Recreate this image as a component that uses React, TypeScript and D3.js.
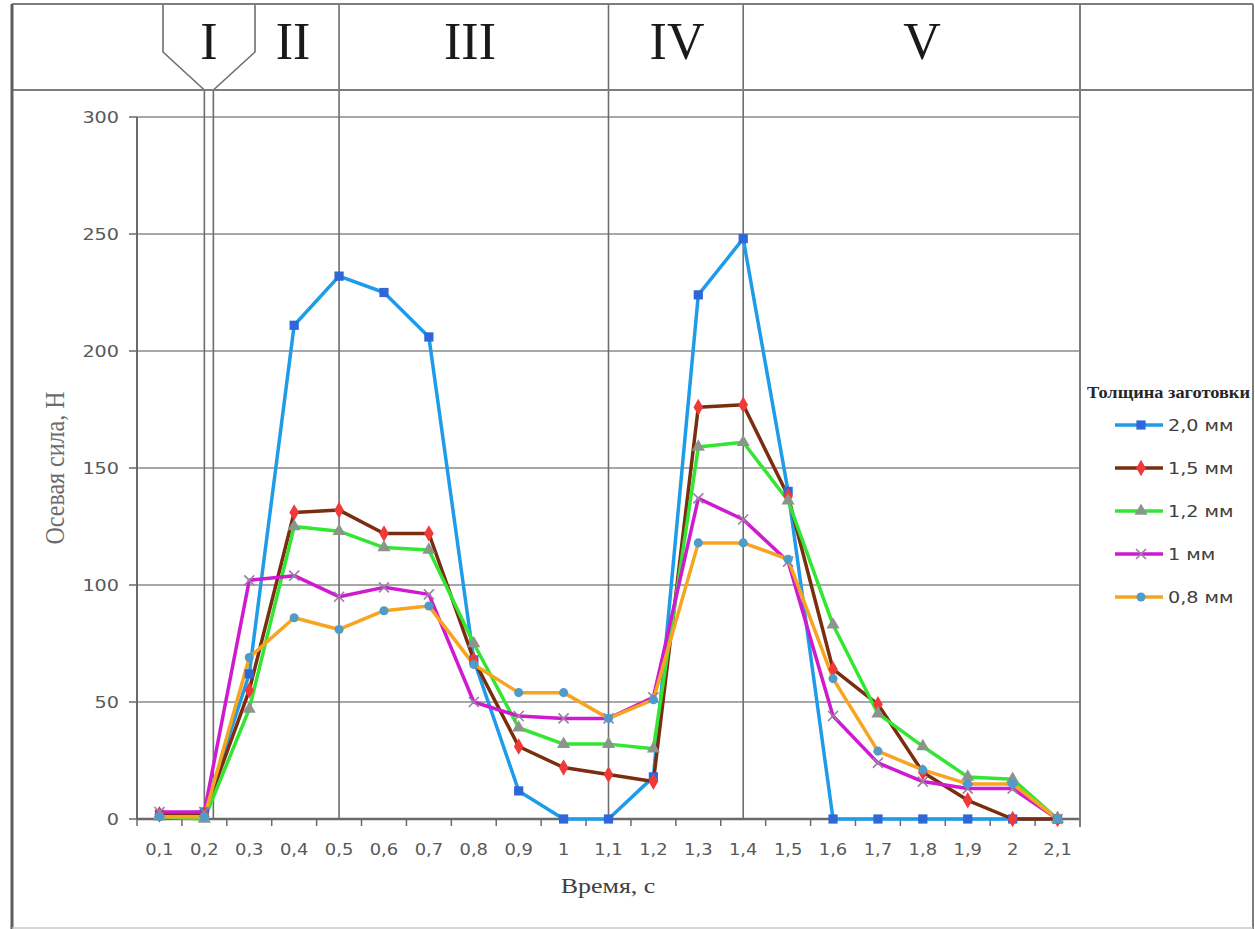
import React from 'react';
import * as d3 from 'd3';

const categories = ["0,1", "0,2", "0,3", "0,4", "0,5", "0,6", "0,7", "0,8", "0,9", "1", "1,1", "1,2", "1,3", "1,4", "1,5", "1,6", "1,7", "1,8", "1,9", "2", "2,1"];
const s20 = [2, 3, 62, 211, 232, 225, 206, 68, 12, 0, 0, 18, 224, 248, 140, 0, 0, 0, 0, 0, 0];
const s15 = [2, 2, 55, 131, 132, 122, 122, 68, 31, 22, 19, 16, 176, 177, 138, 64, 49, 20, 8, 0, 0];
const s12 = [1, 0, 47, 125, 123, 116, 115, 75, 39, 32, 32, 30, 159, 161, 136, 83, 45, 31, 18, 17, 0];
const s10 = [3, 3, 102, 104, 95, 99, 96, 50, 44, 43, 43, 52, 137, 128, 110, 44, 24, 16, 13, 13, 0];
const s08 = [1, 1, 69, 86, 81, 89, 91, 66, 54, 54, 43, 51, 118, 118, 111, 60, 29, 21, 15, 15, 0];
const seriesNames = ["2,0 мм", "1,5 мм", "1,2 мм", "1 мм", "0,8 мм"];
const yTicks = [0, 50, 100, 150, 200, 250, 300];
const phaseLabels = ["I", "II", "III", "IV", "V"];
const phaseBounds = ["0,5", "1,1", "1,4"];

const styles = [
  { line: "#1E9CEA", marker: "square", fill: "#2F66D8", stroke: "none" },
  { line: "#7B2D10", marker: "diamond", fill: "#F03A3A", stroke: "none" },
  { line: "#33E633", marker: "triangle", fill: "#8C958C", stroke: "none" },
  { line: "#CF1ACF", marker: "x", fill: "none", stroke: "#9B7FA3" },
  { line: "#F7A520", marker: "circle", fill: "#4F9CC8", stroke: "none" },
];

function markerPath(kind: string): string {
  if (kind === "square") return d3.symbol().type(d3.symbolSquare).size(85)()!;
  if (kind === "diamond") return d3.symbol().type(d3.symbolDiamond).size(80)()!;
  if (kind === "triangle") return d3.symbol().type(d3.symbolTriangle).size(75)()!;
  if (kind === "circle") return d3.symbol().type(d3.symbolCircle).size(65)()!;
  const r = 5;
  return `M${-r},${-r}L${r},${r}M${-r},${r}L${r},${-r}`;
}

function T(props: { x: number; y: number; sx?: number; anchor?: string; size: number; family: string; fill: string; weight?: string; children: any; rotate?: number }) {
  const { x, y, sx = 1, anchor = "start", size, family, fill, weight = "normal", children, rotate = 0 } = props;
  const tr = rotate ? `translate(${x},${y}) rotate(${rotate}) scale(1,${sx})` : `translate(${x},${y}) scale(${sx},1)`;
  return (
    <text transform={tr} textAnchor={anchor} fontSize={size} fontFamily={family} fill={fill} fontWeight={weight}>
      {children}
    </text>
  );
}

export default function App() {
  const W = 1255, H = 929;
  const x = d3.scaleBand().domain(categories).range([137, 1080]);
  const y = d3.scaleLinear().domain([0, 300]).range([819, 117]);
  const cx = (c: string) => (x(c) as number) + x.bandwidth() / 2;
  const lineGen = d3.line<number>().x((_, i) => cx(categories[i])).y(d => y(d));
  const allSeries = [s20, s15, s12, s10, s08];
  const sans = "'DejaVu Sans', sans-serif";
  const serif = "'Liberation Serif', 'Times New Roman', serif";
  const frame = "#7d7d7d";
  const grid = "#8a8a8a";
  const top = 4, headBottom = 90;
  const xI = cx("0,2");
  const xI2 = xI + 9;
  const boundX = phaseBounds.map(cx);
  const rightX = x.range()[1];
  const legendY = [425, 468, 511, 554, 597];
  const phaseX = [209, 293, 470, 677, 922];

  return (
    <svg width={W} height={H} style={{ position: "absolute", left: 0, top: 0, background: "#fff" }}>
      <rect x={0} y={0} width={W} height={H} fill="#fff" />
      {/* horizontal grid */}
      {yTicks.map(t => (
        <line key={"g" + t} x1={137} x2={rightX} y1={y(t)} y2={y(t)} stroke={t === 0 ? "#6a6a6a" : grid} strokeWidth={t === 0 ? 2.5 : 1.6} />
      ))}
      {/* y axis */}
      <line x1={137} x2={137} y1={y(300)} y2={y(0)} stroke="#6a6a6a" strokeWidth={2} />
      {yTicks.map(t => (
        <line key={"yt" + t} x1={129} x2={137} y1={y(t)} y2={y(t)} stroke="#6a6a6a" strokeWidth={1.5} />
      ))}
      {yTicks.map(t => (
        <T key={"yl" + t} x={119} y={y(t) + 6} anchor="end" size={16} sx={1.2} family={sans} fill="#595959">{t}</T>
      ))}
      {/* x ticks */}
      {d3.range(categories.length + 1).map(i => {
        const xx = 137 + i * x.bandwidth();
        return <line key={"xt" + i} x1={xx} x2={xx} y1={y(0)} y2={y(0) + 7} stroke="#6a6a6a" strokeWidth={1.5} />;
      })}
      {categories.map(c => (
        <T key={"xl" + c} x={cx(c)} y={855} anchor="middle" size={16} sx={1.12} family={sans} fill="#595959">{c}</T>
      ))}
      {/* phase divider lines */}
      {boundX.map((bx, i) => (
        <line key={"b" + i} x1={bx} x2={bx} y1={top} y2={y(0)} stroke="#6e6e6e" strokeWidth={1.6} />
      ))}
      <line x1={xI} x2={xI} y1={headBottom} y2={y(0)} stroke="#6e6e6e" strokeWidth={1.6} />
      <line x1={xI2} x2={xI2} y1={headBottom} y2={y(0)} stroke="#6e6e6e" strokeWidth={1.6} />
      <path d={`M163,${top}L163,52L${xI},${headBottom}M255,${top}L255,52L${xI2},${headBottom}`} fill="none" stroke="#6e6e6e" strokeWidth={1.6} />
      <line x1={rightX} x2={rightX} y1={top} y2={827} stroke={frame} strokeWidth={2} />
      {/* frame */}
      <line x1={12} x2={1253} y1={top} y2={top} stroke={frame} strokeWidth={2.2} />
      <line x1={12} x2={1253} y1={headBottom} y2={headBottom} stroke={frame} strokeWidth={2} />
      <line x1={12} x2={12} y1={top} y2={H} stroke="#5e5e5e" strokeWidth={3} />
      <line x1={1253} x2={1253} y1={top} y2={H} stroke={frame} strokeWidth={2} />
      <line x1={12} x2={1253} y1={928} y2={928} stroke="#c8c8c8" strokeWidth={1.5} />
      {/* phase labels */}
      {phaseLabels.map((p, i) => (
        <T key={"p" + p} x={phaseX[i]} y={59} anchor="middle" size={52} family={serif} fill="#1a1a1a">{p}</T>
      ))}
      {/* series lines */}
      {allSeries.map((s, si) => (
        <path key={"l" + si} d={lineGen(s)!} fill="none" stroke={styles[si].line} strokeWidth={3.5} strokeLinejoin="round" />
      ))}
      {allSeries.map((s, si) => (
        <g key={"m" + si}>
          {s.map((v, i) => (
            <path key={i} d={markerPath(styles[si].marker)} transform={`translate(${cx(categories[i])},${y(v)})`} fill={styles[si].fill} stroke={styles[si].stroke} strokeWidth={1.6} />
          ))}
        </g>
      ))}
      {/* axis titles */}
      <T x={608} y={893} anchor="middle" size={22} sx={1.18} family={serif} fill="#404040">Время, с</T>
      <T x={64} y={468} anchor="middle" size={24} sx={1.15} rotate={-90} family={serif} fill="#6b6b6b">Осевая сила, Н</T>
      {/* legend */}
      <T x={1087} y={398} size={17} sx={1.08} family={serif} weight="bold" fill="#262626">Толщина заготовки</T>
      {seriesNames.map((n, i) => (
        <g key={"lg" + i}>
          <line x1={1115} x2={1163} y1={legendY[i]} y2={legendY[i]} stroke={styles[i].line} strokeWidth={3.5} />
          <path d={markerPath(styles[i].marker)} transform={`translate(${1141},${legendY[i]})`} fill={styles[i].fill} stroke={styles[i].stroke} strokeWidth={1.6} />
          <T x={1168} y={legendY[i] + 6} size={15} sx={1.28} family={sans} fill="#404040">{n}</T>
        </g>
      ))}
    </svg>
  );
}
